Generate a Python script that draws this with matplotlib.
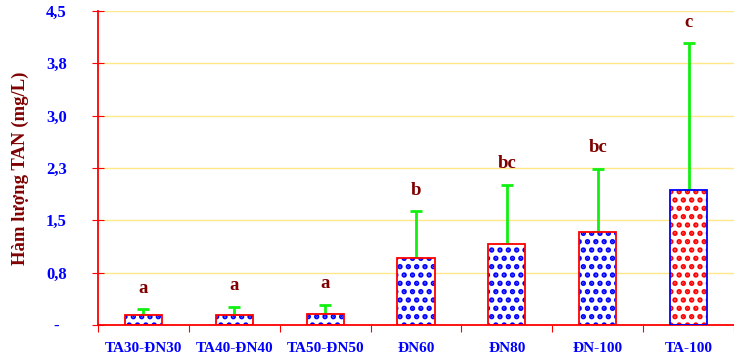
import matplotlib.pyplot as plt
import numpy as np

# Hàm lượng TAN theo nghiệm thức
categories = ['TA30-ĐN30', 'TA40-ĐN40', 'TA50-ĐN50', 'ĐN60', 'ĐN80', 'ĐN-100', 'TA-100']
means = [0.14, 0.15, 0.16, 0.96, 1.16, 1.33, 1.93]
sd = [0.09, 0.11, 0.13, 0.67, 0.85, 0.91, 2.11]
letters = ['a', 'a', 'a', 'b', 'bc', 'bc', 'c']
ytick_vals = [0, 0.75, 1.5, 2.25, 3.0, 3.75, 4.5]
ytick_labels = ['-', '0,8', '1,5', '2,3', '3,0', '3,8', '4,5']

plt.rcParams['font.family'] = ['Liberation Serif', 'DejaVu Serif']
plt.rcParams['hatch.linewidth'] = 2.6

fig = plt.figure(figsize=(7.34, 3.59), dpi=100)
ax = fig.add_axes([0.1335, 0.0947, 0.8665, 0.8747])

x = np.arange(len(categories))
w = 0.41
dot_col = ['#0000FF'] * 6 + ['#FF0000']
edge_col = ['#FF0000'] * 6 + ['#0000FF']

# lưới ngang
for yv in ytick_vals[1:]:
    ax.axhline(yv, color='#FFE88A', lw=1.0, zorder=0)

for i in range(len(x)):
    # nền chấm
    ax.bar(x[i], means[i], w, color='white', edgecolor=dot_col[i], hatch='..',
           linewidth=0, zorder=2)
    # viền cột
    ax.bar(x[i], means[i], w, fill=False, edgecolor=edge_col[i], linewidth=1.3, zorder=3)

ax.errorbar(x, means, yerr=[np.zeros(len(sd)), sd], fmt='none', ecolor='#11F011',
            elinewidth=2, capsize=4, capthick=2, zorder=1)

for i in range(len(x)):
    ax.text(x[i], means[i] + sd[i] + 0.3, letters[i], ha='center', va='center',
            fontsize=13.5, fontweight='bold', color='#800000')

ax.set_xlim(-0.5, 6.41)
ax.set_ylim(0, 4.5)
ax.set_yticks(ytick_vals)
ax.set_yticklabels(ytick_labels, fontsize=12, fontweight='bold', color='#0000FF')
ax.set_xticks(np.arange(-0.5, 7, 1))
ax.set_xticklabels([])
ax.set_xticks(x, minor=True)
ax.set_xticklabels(categories, minor=True, fontsize=11, fontweight='bold', color='#0000FF')
ax.tick_params(axis='x', which='minor', length=0, pad=12)
ax.tick_params(axis='x', which='major', direction='out', length=5, color='#FF0000')
ax.tick_params(axis='y', direction='inout', length=8, color='#FF0000', pad=26)
for lab in ax.get_yticklabels():
    lab.set_horizontalalignment('center')

ax.set_ylabel('Hàm lượng TAN (mg/L)', fontsize=13.5, fontweight='bold', color='#800000',
              labelpad=12)

for s in ['top', 'right']:
    ax.spines[s].set_visible(False)
for s in ['left', 'bottom']:
    ax.spines[s].set_color('#FF0000')
    ax.spines[s].set_linewidth(1.3)

fig.savefig('out.png', dpi=100)
